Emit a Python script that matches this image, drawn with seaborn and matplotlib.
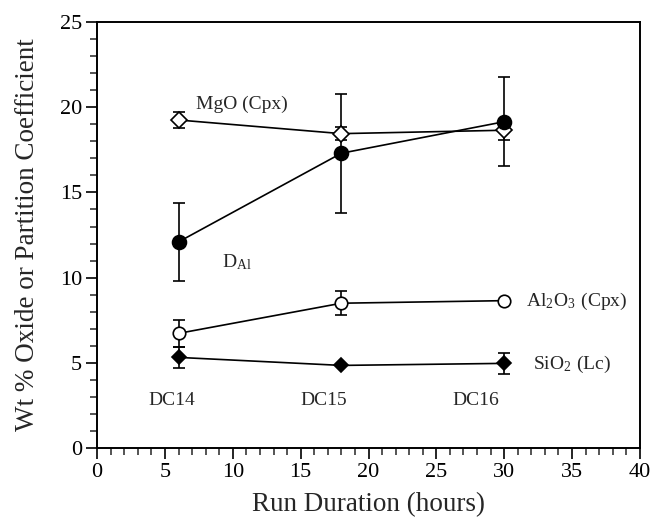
import matplotlib
matplotlib.use("Agg")
import matplotlib.pyplot as plt
import seaborn as sns
import pandas as pd
from matplotlib.ticker import MultipleLocator

hours = [6, 18, 30]
mgo_cpx = [19.25, 18.45, 18.65]
mgo_err = [0.45, 0.4, 0.55]
d_al = [12.1, 17.3, 19.15]
d_al_err = [2.3, 3.5, 2.6]
al2o3_cpx = [6.73, 8.5, 8.65]
al2o3_err = [0.8, 0.7, 0.0]
sio2_lc = [5.32, 4.85, 4.97]
sio2_err = [0.6, 0.0, 0.6]
run_labels = ["DC14", "DC15", "DC16"]

sns.set_theme(style="ticks")
plt.rcParams['font.family'] = ['Liberation Serif', 'DejaVu Serif']
plt.rcParams['mathtext.fontset'] = 'stix'

fig = plt.figure(figsize=(6.61, 5.18), dpi=100)
ax = fig.add_axes([0.147, 0.135, 0.821, 0.8225])

series = [
    (mgo_cpx, mgo_err, "D", "white", 8.5),
    (d_al, d_al_err, "o", "black", 10),
    (al2o3_cpx, al2o3_err, "o", "white", 9),
    (sio2_lc, sio2_err, "D", "black", 7.5),
]
for vals, errs, mk, fc, ms in series:
    df = pd.DataFrame({"x": hours, "y": vals})
    ax.errorbar(hours, vals, yerr=errs, fmt="none", ecolor="black",
                elinewidth=1.2, capsize=4, capthick=1.2, zorder=2)
    sns.lineplot(data=df, x="x", y="y", ax=ax, color="black", linewidth=1.2,
                 marker=mk, markersize=ms, markerfacecolor=fc,
                 markeredgecolor="black", markeredgewidth=1.2, zorder=3)

tfs = 14
ax.text(7.3, 20.15, "MgO (Cpx)", fontsize=tfs, va="center", ha="left")
ax.text(9.2, 10.9, r"D$_{\mathregular{Al}}$", fontsize=tfs, va="center", ha="left")
ax.text(31.6, 8.6, r"Al$_{\mathregular{2}}$O$_{\mathregular{3}}$ (Cpx)", fontsize=tfs, va="center", ha="left")
ax.text(32.1, 4.92, r"SiO$_{\mathregular{2}}$ (Lc)", fontsize=tfs, va="center", ha="left")
for xv, lab in zip([5.5, 16.7, 27.9], run_labels):
    ax.text(xv, 2.8, lab, fontsize=tfs, va="center", ha="center")

ax.set_xlim(0, 40)
ax.set_ylim(0, 25)
ax.xaxis.set_major_locator(MultipleLocator(5))
ax.xaxis.set_minor_locator(MultipleLocator(1))
ax.yaxis.set_major_locator(MultipleLocator(5))
ax.yaxis.set_minor_locator(MultipleLocator(1))
ax.tick_params(which="major", direction="out", length=8, width=1.2, labelsize=16, colors="black", pad=3)
ax.tick_params(which="minor", direction="out", length=5, width=1.1)
for s in ax.spines.values():
    s.set_visible(True)
    s.set_linewidth(1.4)
    s.set_color("black")

ax.set_xlabel("Run Duration (hours)", fontsize=19.5, labelpad=7)
ax.set_ylabel("Wt % Oxide or Partition Coefficient", fontsize=19.5, labelpad=14)

fig.savefig("out.png", dpi=100, facecolor="white")
